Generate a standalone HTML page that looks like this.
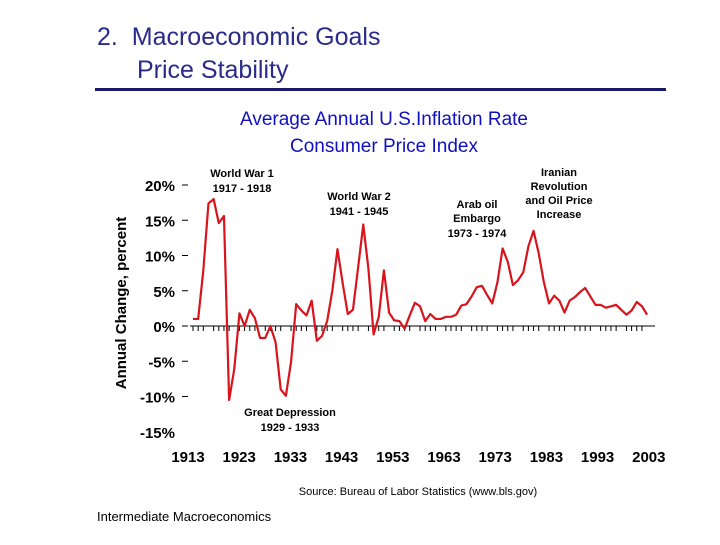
<!DOCTYPE html>
<html><head><meta charset="utf-8"><style>
body{margin:0;background:#fff;}
svg text{font-family:"Liberation Sans",Arial,sans-serif;}
</style></head><body>
<svg width="720" height="540" viewBox="0 0 720 540">
<text x="97" y="45" font-size="25" fill="#2a2a8a">2.&#160; Macroeconomic Goals</text>
<text x="137" y="78" font-size="25" fill="#2a2a8a">Price Stability</text>
<rect x="95" y="88" width="571" height="3" fill="#1a1a6a"/>
<text x="384" y="125" font-size="19" fill="#1010c0" text-anchor="middle">Average Annual U.S.Inflation Rate</text>
<text x="384" y="152" font-size="19" fill="#1010c0" text-anchor="middle">Consumer Price Index</text>
<text transform="translate(126,303) rotate(-90)" font-size="15" font-weight="bold" text-anchor="middle">Annual Change, percent</text>
<g id="yaxis"></g>
<g id="xaxis"></g>
<polyline id="line" fill="none" stroke="#d8141c" stroke-width="2.2" stroke-linejoin="round"/>
<g font-size="11" font-weight="bold" text-anchor="middle">
<text x="242" y="177"><tspan x="242">World War 1</tspan><tspan x="242" dy="15">1917 - 1918</tspan></text>
<text x="359" y="200"><tspan x="359">World War 2</tspan><tspan x="359" dy="15">1941 - 1945</tspan></text>
<text x="477" y="208"><tspan x="477">Arab oil</tspan><tspan x="477" dy="14">Embargo</tspan><tspan x="477" dy="15">1973 - 1974</tspan></text>
<text x="559" y="176"><tspan x="559">Iranian</tspan><tspan x="559" dy="14">Revolution</tspan><tspan x="559" dy="14">and Oil Price</tspan><tspan x="559" dy="14">Increase</tspan></text>
<text x="290" y="416"><tspan x="290">Great Depression</tspan><tspan x="290" dy="15">1929 - 1933</tspan></text>
<text x="418" y="495" font-weight="normal">Source: Bureau of Labor Statistics (www.bls.gov)</text>
</g>
<text x="97" y="521" font-size="13">Intermediate Macroeconomics</text>
</svg>
<script>
const years=[];for(let y=1914;y<=2002;y++)years.push(y);
const inflation=[1.0,1.0,7.9,17.4,18.0,14.6,15.6,-10.5,-6.1,1.8,0.0,2.3,1.1,-1.7,-1.7,0.0,-2.3,-9.0,-9.9,-5.1,3.1,2.2,1.5,3.6,-2.1,-1.4,0.7,5.0,10.9,6.1,1.7,2.3,8.3,14.4,8.1,-1.2,1.3,7.9,1.9,0.8,0.7,-0.4,1.5,3.3,2.8,0.7,1.7,1.0,1.0,1.3,1.3,1.6,2.9,3.1,4.2,5.5,5.7,4.4,3.2,6.2,11.0,9.1,5.8,6.5,7.6,11.3,13.5,10.3,6.2,3.2,4.3,3.6,1.9,3.6,4.1,4.8,5.4,4.2,3.0,3.0,2.6,2.8,3.0,2.3,1.6,2.2,3.4,2.8,1.6];
const yTicks=[20,15,10,5,0,-5,-10,-15];
const xLabels=[1913,1923,1933,1943,1953,1963,1973,1983,1993,2003];
const NS='http://www.w3.org/2000/svg';
const X=y=>193+(y-1914)*5.16, Y=v=>326-v*7.05;
const ya=document.getElementById('yaxis'), xa=document.getElementById('xaxis');
yTicks.forEach(v=>{
 const t=document.createElementNS(NS,'text');
 
 
 t.setAttribute('x',175);t.setAttribute('y',Y(v)+6);t.setAttribute('text-anchor','end');
 t.setAttribute('font-size','15');t.setAttribute('font-weight','bold');
 t.textContent=v+'%';ya.appendChild(t);
 if(v>-15){const l=document.createElementNS(NS,'line');
 
 
 l.setAttribute('x1',182);l.setAttribute('x2',188);l.setAttribute('y1',Y(v));l.setAttribute('y2',Y(v));l.setAttribute('stroke','#000');ya.appendChild(l);}
});
const ax=document.createElementNS(NS,'line');


ax.setAttribute('x1',190);ax.setAttribute('x2',655);ax.setAttribute('y1',Y(0));ax.setAttribute('y2',Y(0));ax.setAttribute('stroke','#000');xa.appendChild(ax);
years.forEach(y=>{
 if((y-1913)%5===4)return;
 const l=document.createElementNS(NS,'line');
 
 
 l.setAttribute('x1',X(y));l.setAttribute('x2',X(y));l.setAttribute('y1',Y(0));l.setAttribute('y2',Y(0)+5);l.setAttribute('stroke','#000');xa.appendChild(l);
});
xLabels.forEach((y,i)=>{
 const t=document.createElementNS(NS,'text');
 
 
 t.setAttribute('x',188+i*51.2);t.setAttribute('y',462);t.setAttribute('text-anchor','middle');
 t.setAttribute('font-size','15');t.setAttribute('font-weight','bold');
 t.textContent=y;xa.appendChild(t);
});
document.getElementById('line').setAttribute('points',years.map((y,i)=>X(y)+','+Y(inflation[i])).join(' '));
</script>
</body></html>
